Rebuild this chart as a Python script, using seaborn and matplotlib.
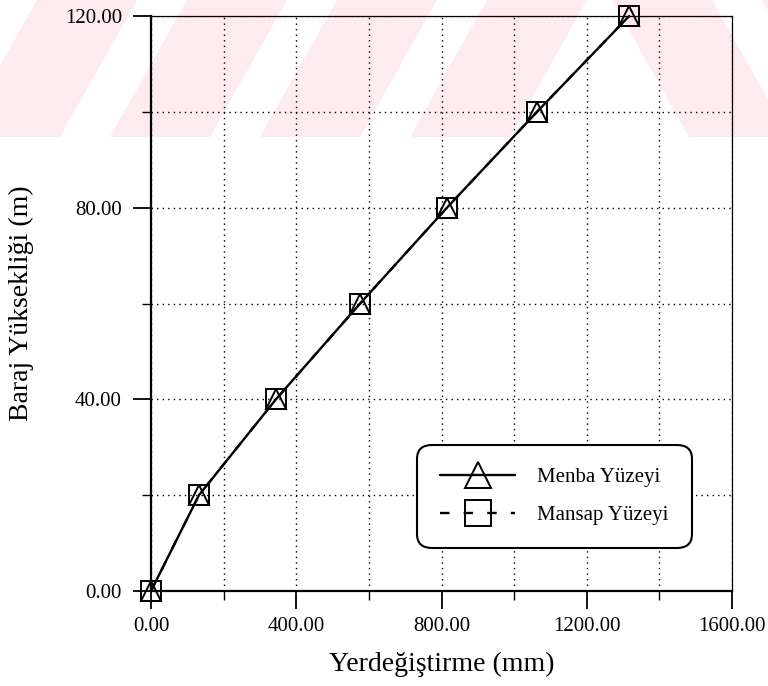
import numpy as np
import pandas as pd
import matplotlib
matplotlib.use("Agg")
import matplotlib.pyplot as plt
from matplotlib.patches import Polygon
from matplotlib.ticker import MultipleLocator, FormatStrFormatter
import seaborn as sns

# ---- data ----
height_m = [0, 20, 40, 60, 80, 100, 120]
menba_disp = [0, 132, 344, 576, 815, 1063, 1317]
mansap_disp = [0, 132, 344, 576, 815, 1063, 1317]
series_labels = ["Menba Yüzeyi", "Mansap Yüzeyi"]
x_label = "Yerdeğiştirme (mm)"
y_label = "Baraj Yüksekliği (m)"

# decorative watermark bands (figure pixels, bottom edge x starts)
wm_slash_starts = [-40, 110, 260, 410]
wm_back_starts = [612, 762]

sns.set_theme(style="white")
plt.rcParams["font.family"] = ["Liberation Serif", "DejaVu Serif"]

W, H = 768, 686
fig = plt.figure(figsize=(W / 100, H / 100), dpi=100)
fig.patch.set_facecolor("white")

# watermark (behind everything)
pink = "#fdebf0"
band_w, slant, band_h = 100, 77, 137
def px(x, y):
    return (x / W, 1 - y / H)
for x0 in wm_slash_starts:
    pts = [px(x0, band_h), px(x0 + band_w, band_h), px(x0 + band_w + slant, 0), px(x0 + slant, 0)]
    fig.patches.append(Polygon(pts, closed=True, transform=fig.transFigure, fc=pink, ec="none", zorder=-5))
for x0 in wm_back_starts:
    pts = [px(x0, 0), px(x0 + band_w, 0), px(x0 + band_w + slant, band_h), px(x0 + slant, band_h)]
    fig.patches.append(Polygon(pts, closed=True, transform=fig.transFigure, fc=pink, ec="none", zorder=-5))

ax = fig.add_axes([151 / W, 1 - 591 / H, (732 - 151) / W, (591 - 16) / H])
ax.set_zorder(2)
ax.patch.set_alpha(0)

df_mansap = pd.DataFrame({"disp": mansap_disp, "h": height_m})
df_menba = pd.DataFrame({"disp": menba_disp, "h": height_m})

sns.lineplot(data=df_mansap, x="disp", y="h", ax=ax, color="black", lw=1.7,
             marker="s", markersize=14, markerfacecolor="none",
             markeredgecolor="black", markeredgewidth=1.4,
             dashes=(4, 6), label=series_labels[1], zorder=3)
sns.lineplot(data=df_menba, x="disp", y="h", ax=ax, color="black", lw=1.7,
             marker="^", markersize=14, markerfacecolor="none",
             markeredgecolor="black", markeredgewidth=1.4,
             label=series_labels[0], zorder=4)
for ln in ax.lines:
    ln.set_clip_on(False)

ax.set_xlim(0, 1600)
ax.set_ylim(0, 120)
ax.xaxis.set_major_locator(MultipleLocator(400))
ax.xaxis.set_minor_locator(MultipleLocator(200))
ax.yaxis.set_major_locator(MultipleLocator(40))
ax.yaxis.set_minor_locator(MultipleLocator(20))
ax.xaxis.set_major_formatter(FormatStrFormatter("%.2f"))
ax.yaxis.set_major_formatter(FormatStrFormatter("%.2f"))

ax.grid(which="both", color="black", linestyle=(0, (1, 3)), linewidth=1.0)
ax.set_axisbelow(True)

ax.tick_params(which="major", direction="out", length=13, width=1.3, color="black",
               labelsize=15, labelcolor="black", left=True, bottom=True)
ax.tick_params(which="minor", direction="out", length=6.5, width=1.0, color="black",
               left=True, bottom=True)
ax.tick_params(axis="x", which="major", pad=6)
ax.tick_params(axis="y", which="major", pad=8)

for s in ["left", "bottom"]:
    ax.spines[s].set_linewidth(1.6)
    ax.spines[s].set_color("black")
for s in ["top", "right"]:
    ax.spines[s].set_linewidth(0.9)
    ax.spines[s].set_color("black")

ax.set_xlabel(x_label, fontsize=20, color="black")
ax.set_ylabel(y_label, fontsize=20, color="black")
ax.xaxis.set_label_coords(0.5, -0.105)
ax.yaxis.set_label_coords((34 - 151) / 581, 0.5)

handles, labels = ax.get_legend_handles_labels()
order = [labels.index(series_labels[0]), labels.index(series_labels[1])]
leg = ax.legend([handles[i] for i in order], [labels[i] for i in order],
                loc="center", bbox_to_anchor=(554.5 / W, 1 - 496.5 / H),
                bbox_transform=fig.transFigure, fontsize=15, frameon=True,
                fancybox=True, framealpha=1, edgecolor="black", facecolor="white",
                handlelength=3.6, handletextpad=1.05, borderpad=1.1,
                labelspacing=0.9, markerscale=1.3)
leg.get_frame().set_linewidth(1.5)
leg.get_frame().set_boxstyle("round", pad=0, rounding_size=0.7)
for t in leg.get_texts():
    t.set_color("black")

fig.savefig("out.png", dpi=100)
